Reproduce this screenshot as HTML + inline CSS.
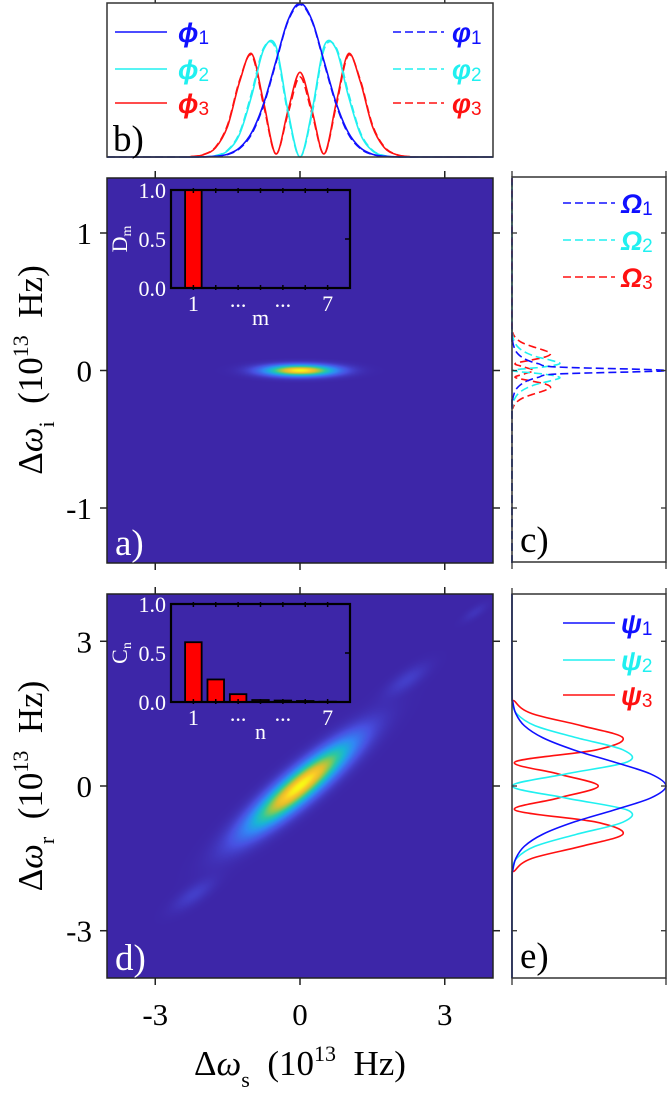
<!DOCTYPE html>
<html><head><meta charset="utf-8">
<style>
html,body{margin:0;padding:0;background:#fff;}
#wrap{position:relative;width:670px;height:1093px;overflow:hidden;}
canvas{position:absolute;}
svg{position:absolute;left:0;top:0;}
.tick{font-family:"Liberation Serif",serif;font-size:31px;fill:#000;}
.ttl{font-family:"Liberation Serif",serif;font-size:35px;fill:#000;}
.ins{font-family:"Liberation Serif",serif;font-size:22px;fill:#fff;}
.leg{font-family:"Liberation Sans",sans-serif;font-size:27px;font-weight:bold;font-style:italic;}
.plab{font-family:"Liberation Serif",serif;font-size:37px;}
</style></head>
<body>
<div id="wrap">
<canvas id="cva" width="386" height="385" style="left:107px;top:178px"></canvas>
<canvas id="cvd" width="386" height="384" style="left:107px;top:594px"></canvas>
<svg id="svg" width="670" height="1093" xmlns="http://www.w3.org/2000/svg"></svg>
</div>
<script>
// ---------- data ----------
const bGrid=[0,0.25,0.5,0.75,1.0,1.25,1.5,1.75,2.0,2.25,2.5];
const phi1=[1,0.887,0.62,0.35,0.16,0.06,0.018,0.005,0.001,0,0];
const phi2=[0,0.30,0.72,0.70,0.40,0.15,0.04,0.008,0.001,0,0];
const phi3=[0.55,0.3,0.02,0.35,0.67,0.49,0.2,0.06,0.015,0.003,0];
const vphi1=[0.99,0.88,0.61,0.34,0.15,0.055,0.016,0.004,0.001,0,0];
const vphi2=[0,0.28,0.70,0.71,0.42,0.16,0.045,0.009,0.001,0,0];
const vphi3=[0.52,0.28,0.02,0.33,0.66,0.5,0.21,0.065,0.016,0.003,0];
const cGrid=[0,0.025,0.05,0.075,0.1,0.125,0.15,0.175,0.2,0.225,0.25,0.275,0.3];
const omega1=[1.0,0.3,0.17,0.1,0.06,0.035,0.02,0.012,0.006,0.003,0.001,0,0];
const omega2=[0,0.2,0.31,0.25,0.16,0.1,0.06,0.035,0.02,0.01,0.005,0.002,0];
const omega3=[0.14,0.08,0.02,0.12,0.22,0.25,0.2,0.13,0.07,0.035,0.015,0.005,0];
const eGrid=[0,0.25,0.5,0.75,1.0,1.25,1.5,1.75,2.0];
const psi1=[1.0,0.9,0.66,0.4,0.2,0.08,0.025,0.005,0];
const psi2=[0,0.35,0.75,0.72,0.42,0.15,0.03,0.003,0];
const psi3=[0.56,0.3,0.02,0.55,0.72,0.45,0.13,0.02,0];
const mCats=[1,2,3,4,5,6,7];
const dVals=[1.0,0,0,0,0,0,0];
const cVals=[0.61,0.23,0.08,0.02,0.015,0.01,0.003];
const catLabels=["1","","...","","...","","7"];
const xTicks=[-3,0,3];
const aTicks=[1,0,-1];
const dTicks=[3,0,-3];
const blobAx=[0],blobAy=[0],blobAamp=[1],blobAsl=[0.48],blobAss=[0.027],blobAang=[0];
const blobDx=[0,2.22,-2.2,3.63],blobDy=[0,2.2,-2.25,3.6],blobDamp=[1,0.07,0.07,0.04];
const blobDsl=[0.9,0.35,0.35,0.2],blobDss=[0.2,0.12,0.12,0.07],blobDang=[40,35,35,35];

// ---------- helpers ----------
const NS="http://www.w3.org/2000/svg";
const svg=document.getElementById('svg');
function el(tag,attrs,parent){const e=document.createElementNS(NS,tag);for(const k in attrs)e.setAttribute(k,attrs[k]);(parent||svg).appendChild(e);return e;}
function lin(d0,d1,r0,r1){return v=>r0+(v-d0)*(r1-r0)/(d1-d0);}
function crPath(pts){let d='M'+pts[0][0].toFixed(2)+','+pts[0][1].toFixed(2);
 for(let i=0;i<pts.length-1;i++){const p0=pts[Math.max(0,i-1)],p1=pts[i],p2=pts[i+1],p3=pts[Math.min(pts.length-1,i+2)];
 const c1=[p1[0]+(p2[0]-p0[0])/6,p1[1]+(p2[1]-p0[1])/6],c2=[p2[0]-(p3[0]-p1[0])/6,p2[1]-(p3[1]-p1[1])/6];
 d+=' C'+c1[0].toFixed(2)+','+c1[1].toFixed(2)+' '+c2[0].toFixed(2)+','+c2[1].toFixed(2)+' '+p2[0].toFixed(2)+','+p2[1].toFixed(2);}
 return d;}
function mirror(grid,vals){const out=[];for(let i=grid.length-1;i>0;i--)out.push([-grid[i],vals[i]]);for(let i=0;i<grid.length;i++)out.push([grid[i],vals[i]]);return out;}

const XS=lin(-4,4,107,493);
// ---------- colormap ----------
const cmS=[0,0.12,0.28,0.42,0.55,0.68,0.8,0.9,1];
const cmC=[[61,38,168],[72,80,225],[50,135,245],[25,180,215],[45,200,160],[140,200,80],[225,190,45],[250,200,40],[248,250,20]];
function cmap(t){t=Math.max(0,Math.min(1,t));for(let i=1;i<cmS.length;i++){if(t<=cmS[i]){const f=(t-cmS[i-1])/(cmS[i]-cmS[i-1]);return cmC[i-1].map((c,k)=>c+(cmC[i][k]-c)*f);}}return cmC[cmC.length-1];}
function heat(id,ymin,ymax,bx,by,ba,bl,bs,bg){const cv=document.getElementById(id),ctx=cv.getContext('2d');const W=cv.width,H=cv.height;const img=ctx.createImageData(W,H);
 for(let py=0;py<H;py++){const y=ymax-(py+0.5)*(ymax-ymin)/H;for(let px=0;px<W;px++){const x=-4+(px+0.5)*8/W;let I=0;
  for(let k=0;k<bx.length;k++){const a=bg[k]*Math.PI/180,dx=x-bx[k],dy=y-by[k];const u=dx*Math.cos(a)+dy*Math.sin(a),v=-dx*Math.sin(a)+dy*Math.cos(a);I+=ba[k]*Math.exp(-u*u/(2*bl[k]*bl[k])-v*v/(2*bs[k]*bs[k]));}
  const c=cmap(I),o=(py*W+px)*4;img.data[o]=c[0];img.data[o+1]=c[1];img.data[o+2]=c[2];img.data[o+3]=255;}}
 ctx.putImageData(img,0,0);}
heat('cva',-1.4,1.4,blobAx,blobAy,blobAamp,blobAsl,blobAss,blobAang);
heat('cvd',-3.98,3.98,blobDx,blobDy,blobDamp,blobDsl,blobDss,blobDang);

const BLUE='#1010ff',CYAN='#20f0f0',RED='#ff1010';
// ---------- panel b ----------
const YB=lin(0,1,157,3);
const gb=el('g',{});
function bCurve(vals,col,dash,name){const pts=[[-4,0]].concat(mirror(bGrid,vals)).concat([[4,0]]).map(p=>[XS(p[0]),YB(p[1])]);
 const p=el('path',{d:crPath(pts),fill:'none',stroke:col,'stroke-width':1.6,'stroke-dasharray':dash?'8,4':'none'},gb);}
bCurve(vphi3,RED,true,'varphi3-curve');bCurve(vphi2,CYAN,true,'varphi2-curve');bCurve(vphi1,BLUE,true,'varphi1-curve');
bCurve(phi3,RED,false,'phi3-curve');bCurve(phi2,CYAN,false,'phi2-curve');bCurve(phi1,BLUE,false,'phi1-curve');
el('rect',{x:107,y:3,width:386,height:154,fill:'none',stroke:'#333','stroke-width':1.5},gb);
xTicks.forEach(t=>{el('line',{x1:XS(t),x2:XS(t),y1:3,y2:-4,stroke:'#333','stroke-width':1.5},gb);});
const legB=[['ϕ',BLUE,false,32],['ϕ',CYAN,false,69],['ϕ',RED,false,103]];
const subs=['1','2','3'];
legB.forEach((l,i)=>{const ln=el('line',{x1:115,x2:167,y1:l[3],y2:l[3],stroke:l[1],'stroke-width':1.6},gb);
 const t=el('text',{x:178,y:l[3]+10,class:'leg',fill:l[1]},gb);t.textContent='ϕ';const s=el('tspan',{'font-size':19,'font-style':'normal','font-weight':'normal',dy:2},t);s.textContent=subs[i];
 const ln2=el('line',{x1:393,x2:444,y1:l[3],y2:l[3],stroke:l[1],'stroke-width':1.6,'stroke-dasharray':'8,4'},gb);
 const t2=el('text',{x:452,y:l[3]+10,class:'leg',fill:l[1]},gb);t2.textContent='φ';const s2=el('tspan',{'font-size':19,'font-style':'normal','font-weight':'normal',dy:2},t2);s2.textContent=subs[i];});
const tb=el('text',{x:113,y:151,class:'plab',fill:'#000'},gb);tb.textContent='b)';

// ---------- main panels frames/ticks ----------
function mainFrame(top,bot,yScale,ticks,name){const g=el('g',{});
 el('rect',{x:107,y:top,width:386,height:bot-top,fill:'none',stroke:'#222','stroke-width':1.5},g);
 xTicks.forEach(t=>{el('line',{x1:XS(t),x2:XS(t),y1:top,y2:top-7,stroke:'#222','stroke-width':1.5},g);el('line',{x1:XS(t),x2:XS(t),y1:bot,y2:bot+7,stroke:'#222','stroke-width':1.5},g);});
 ticks.forEach(t=>{const y=yScale(t);el('line',{x1:107,x2:100,y1:y,y2:y,stroke:'#222','stroke-width':1.5},g);el('line',{x1:493,x2:500,y1:y,y2:y,stroke:'#222','stroke-width':1.5},g);
  const tx=el('text',{x:92,y:y+11,class:'tick','text-anchor':'end'},g);tx.textContent=String(t);});
 return g;}
const YA=lin(-1.4,1.4,563,178),YD=lin(-3.98,3.98,978,594);
const ga=mainFrame(178,563,YA,aTicks,'panel-a');
const gd=mainFrame(594,978,YD,dTicks,'panel-d');
xTicks.forEach(t=>{const tx=el('text',{x:XS(t),y:1025,class:'tick','text-anchor':'middle'});tx.textContent=String(t);});
const la=el('text',{x:115,y:555,class:'plab',fill:'#fff'},ga);la.textContent='a)';
const ld=el('text',{x:115,y:970,class:'plab',fill:'#fff'},gd);ld.textContent='d)';

// axis titles
function ytitle(cy,sub,name){const t=el('text',{transform:'translate(42,'+cy+') rotate(-90)',class:'ttl','text-anchor':'middle'});
 t.innerHTML='Δ<tspan font-style="italic">ω</tspan><tspan font-size="22" dy="12">'+sub+'</tspan><tspan dy="-12">  (10</tspan><tspan font-size="22" dy="-14">13</tspan><tspan dy="14">  Hz)</tspan>';
 t.setAttribute('white-space','pre');t.style.whiteSpace='pre';
 }
ytitle(370,'i','y-axis-title-a');ytitle(786,'r','y-axis-title-d');
const xt=el('text',{x:300,y:1075,class:'ttl','text-anchor':'middle'});
xt.style.whiteSpace='pre';
xt.innerHTML='Δ<tspan font-style="italic">ω</tspan><tspan font-size="22" dy="12">s</tspan><tspan dy="-12">  (10</tspan><tspan font-size="22" dy="-14">13</tspan><tspan dy="14">  Hz)</tspan>';


// ---------- insets ----------
function inset(top,bot,vals,letter,sub,name){const g=el('g',{});
 const X=lin(0,8,171,350),Y=lin(0,1,bot,top);
 mCats.forEach((c,i)=>{const r=el('rect',{x:X(c-0.37),y:Y(vals[i]),width:X(c+0.37)-X(c-0.37),height:Y(0)-Y(vals[i]),fill:'#ff0000',stroke:'#000','stroke-width':1.8},g);
  el('line',{x1:X(c),x2:X(c),y1:top-2,y2:top+3,stroke:'#000','stroke-width':1.5},g);el('line',{x1:X(c),x2:X(c),y1:bot-3,y2:bot+2,stroke:'#000','stroke-width':1.5},g);
  if(catLabels[i]){const t=el('text',{x:X(c),y:bot+(catLabels[i]==='...'?19:23),class:'ins','text-anchor':'middle'},g);t.textContent=catLabels[i];}});
 el('rect',{x:171,y:top,width:179,height:bot-top,fill:'none',stroke:'#000','stroke-width':2.2},g);
 [0,0.5,1].forEach(v=>{el('line',{x1:350,x2:345,y1:Y(v),y2:Y(v),stroke:'#000','stroke-width':1.5},g);const t=el('text',{x:166,y:Y(v)+8,class:'ins','text-anchor':'end'},g);t.textContent=v.toFixed(1);});
 const xl=el('text',{x:X(4),y:bot+37,class:'ins','text-anchor':'middle'},g);xl.textContent=sub;
 const yl=el('text',{transform:'translate(127,'+((top+bot)/2)+') rotate(-90)',class:'ins','text-anchor':'middle'},g);yl.innerHTML=letter+'<tspan font-size="14" dy="4">'+sub+'</tspan>';}
inset(190,288,dVals,'D','m','inset-dm');
inset(604,702,cVals,'C','n','inset-cn');

// ---------- side panels ----------
const XV=lin(0,1,512,666);
function sidePanel(top,bot,yScale,ymax,grid,series,cols,dashed,ticks,legSym,legY,lab,name){const g=el('g',{});
 for(let k=series.length-1;k>=0;k--){const pts=[[-ymax,0]].concat(mirror(grid,series[k])).concat([[ymax,0]]).map(p=>[XV(p[1]),yScale(p[0])]);
  const p=el('path',{d:crPath(pts),fill:'none',stroke:cols[k],'stroke-width':1.6,'stroke-dasharray':dashed?'8,4':'none'},g);}
 el('rect',{x:512,y:top,width:154,height:bot-top,fill:'none',stroke:'#333','stroke-width':1.5},g);
 ticks.forEach(t=>{const y=yScale(t);el('line',{x1:666,x2:661,y1:y,y2:y,stroke:'#333','stroke-width':1.3},g);el('line',{x1:512,x2:517,y1:y,y2:y,stroke:'#333','stroke-width':1.3},g);});
 [512,666].forEach(x=>{el('line',{x1:x,x2:x,y1:top,y2:top-6,stroke:'#333','stroke-width':1.3},g);el('line',{x1:x,x2:x,y1:bot,y2:bot+7,stroke:'#333','stroke-width':1.3},g);});
 cols.forEach((c,i)=>{const y=legY[i];const ln=el('line',{x1:563,x2:615,y1:y,y2:y,stroke:c,'stroke-width':1.6,'stroke-dasharray':dashed?'8,4':'none'},g);
  const t=el('text',{x:621,y:y+10,class:'leg',fill:c,'font-style':legSym==='Omega'?'normal':'italic'},g);t.textContent=legSym==='Omega'?'Ω':'ψ';const s=el('tspan',{'font-size':19,'font-style':'normal','font-weight':'normal',dy:2},t);s.textContent=String(i+1);});
 const pl=el('text',{x:520,y:bot-10,class:'plab',fill:'#000'},g);pl.textContent=lab;}
sidePanel(177,562,YA,1.4,cGrid,[omega1,omega2,omega3],[BLUE,CYAN,RED],true,aTicks,'Omega',[203,240,277],'c)','panel-c');
sidePanel(594,978,YD,3.98,eGrid,[psi1,psi2,psi3],[BLUE,CYAN,RED],false,dTicks,'psi',[623,660,695],'e)','panel-e');
</script>
</body></html>
